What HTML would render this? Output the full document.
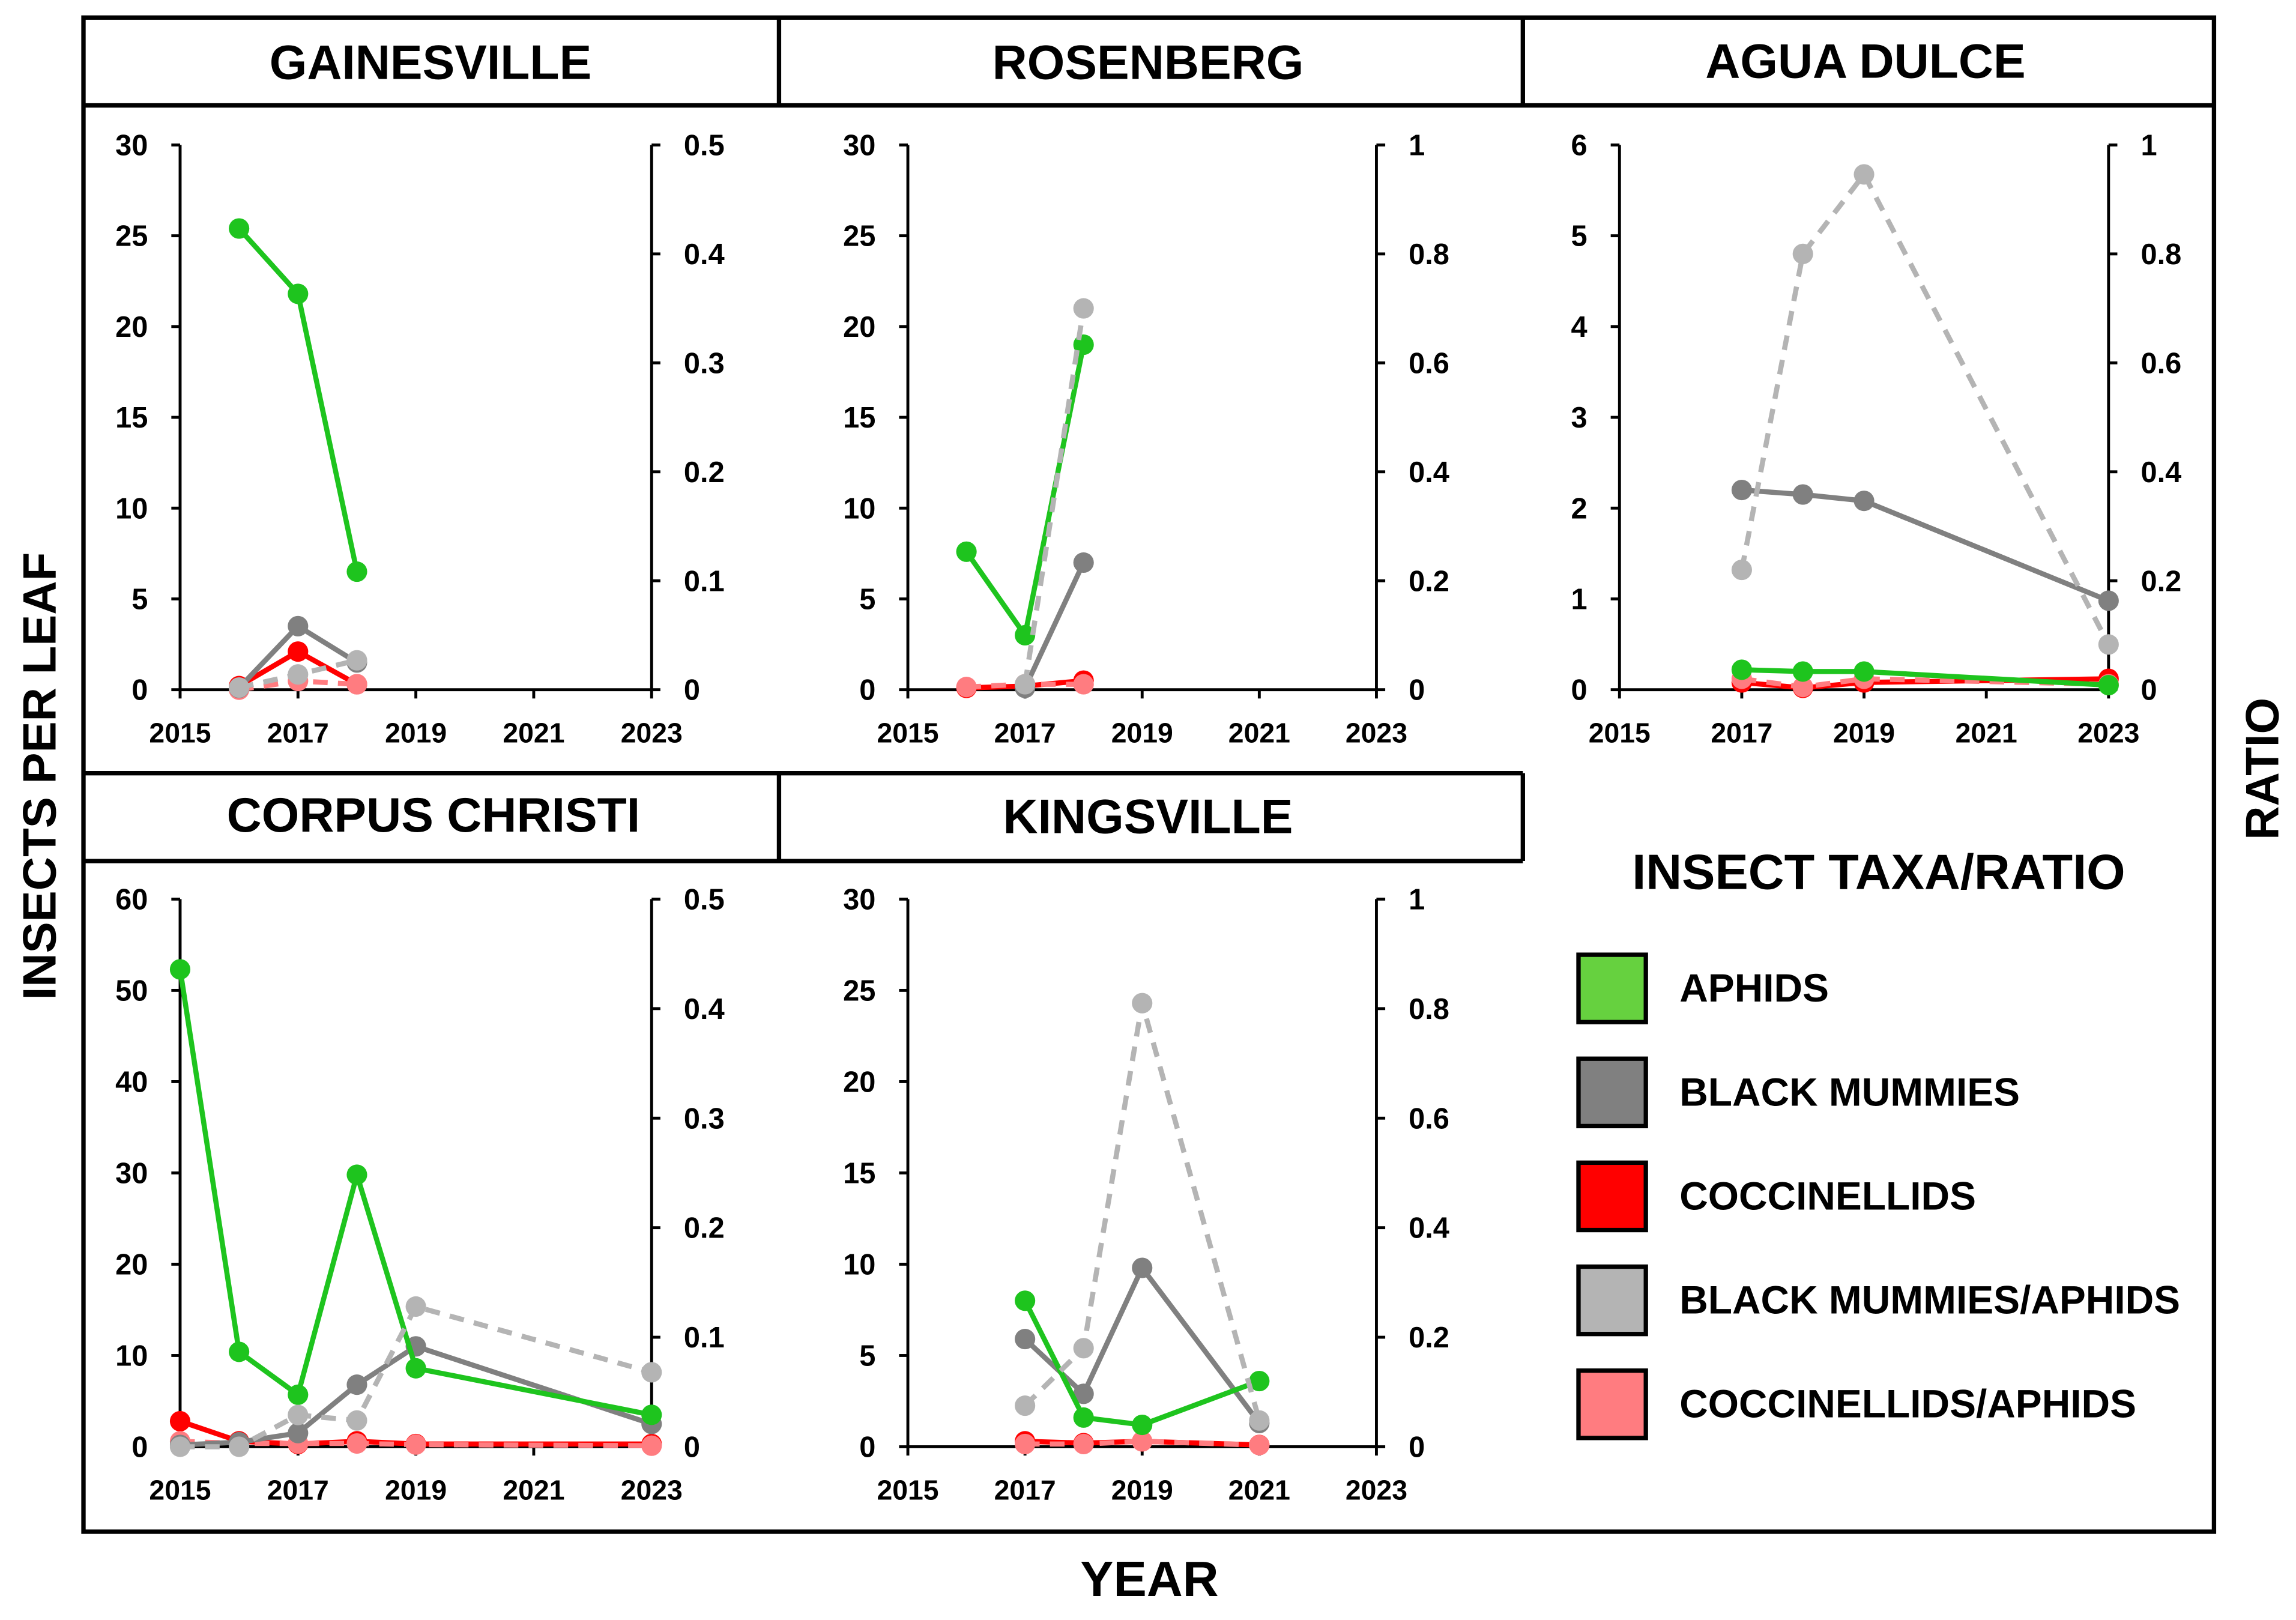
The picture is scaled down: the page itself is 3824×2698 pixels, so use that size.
<!DOCTYPE html>
<html><head><meta charset="utf-8">
<style>
html,body{margin:0;padding:0;background:#fff;}
svg{display:block;font-family:"Liberation Sans",Arial,sans-serif;font-weight:bold;}
</style></head>
<body>
<svg id="chart" width="3824" height="2698" viewBox="0 0 1568 1106.3" xmlns="http://www.w3.org/2000/svg">
<rect x="0" y="0" width="1568" height="1107" fill="#fff"/>
<g id="frame" fill="none" stroke="#000" stroke-width="3">
<rect x="57" y="12" width="1455" height="1034"/>
<line x1="57" y1="72" x2="1512" y2="72"/>
<line x1="532" y1="12" x2="532" y2="72"/>
<line x1="1040" y1="12" x2="1040" y2="72"/>
<line x1="57" y1="528" x2="1040" y2="528"/>
<line x1="57" y1="588" x2="1040" y2="588"/>
<line x1="532" y1="528" x2="532" y2="588"/>
<line x1="1040" y1="528" x2="1040" y2="588"/>
</g>
<g font-size="33" text-anchor="middle">
<text x="294" y="54">GAINESVILLE</text>
<text x="784" y="54">ROSENBERG</text>
<text x="1274" y="53">AGUA DULCE</text>
<text x="296" y="568">CORPUS CHRISTI</text>
<text x="784" y="569">KINGSVILLE</text>
</g>
<text x="0" y="0" font-size="32" text-anchor="middle" transform="translate(38,530) rotate(-90)">INSECTS PER LEAF</text>
<text x="0" y="0" font-size="32" text-anchor="middle" transform="translate(1556,525) rotate(-90)">RATIO</text>
<text x="785" y="1090" font-size="34" text-anchor="middle">YEAR</text>
<g id="panels"></g>
<g id="legend"></g>
</svg>
<script>
// ---- data ----
const panelNames = ["gainesville","rosenberg","agua-dulce","corpus-christi","kingsville"];
const leftMax = [30,30,6,60,30];
const leftStep = [5,5,1,10,5];
const rightMax = [0.5,1,1,0.5,1];
const rightStep = [0.1,0.2,0.2,0.1,0.2];
const xTicks = [2015,2017,2019,2021,2023];

const gYears = [2016,2017,2018];
const gAphids = [25.4,21.8,6.5];
const gMummies = [0.1,3.5,1.5];
const gCocc = [0.2,2.1,0.3];
const gMA = [0.002,0.014,0.027];
const gCA = [0,0.008,0.005];

const rYears = [2016,2017,2018];
const rAphids = [7.6,3.0,19.0];
const rMummies = [null,0.1,7.0];
const rCocc = [0.1,0.2,0.5];
const rMA = [null,0.01,0.70];
const rCA = [0.005,0.01,0.01];

const aYears = [2017,2018,2019,2023];
const aAphids = [0.22,0.2,0.2,0.05];
const aMummies = [2.2,2.15,2.08,0.98];
const aCocc = [0.08,0.02,0.08,0.12];
const aMA = [0.22,0.80,0.946,0.083];
const aCA = [0.02,0.005,0.02,0.01];

const cYears = [2015,2016,2017,2018,2019,2023];
const cAphids = [52.3,10.4,5.7,29.8,8.6,3.5];
const cMummies = [0.2,0.5,1.5,6.8,11,2.5];
const cCocc = [2.8,0.6,0.3,0.6,0.3,0.3];
const cMA = [0,0,0.029,0.024,0.128,0.068];
const cCA = [0.005,0.003,0.003,0.003,0.002,0.001];

const kYears = [2017,2018,2019,2021];
const kAphids = [8.0,1.6,1.2,3.6];
const kMummies = [5.9,2.9,9.8,1.3];
const kCocc = [0.3,0.2,0.3,0.1];
const kMA = [0.075,0.18,0.81,0.048];
const kCA = [0.005,0.005,0.01,0.003];

const years = [gYears,rYears,aYears,cYears,kYears];
const aphids = [gAphids,rAphids,aAphids,cAphids,kAphids];
const mummies = [gMummies,rMummies,aMummies,cMummies,kMummies];
const coccs = [gCocc,rCocc,aCocc,cCocc,kCocc];
const mas = [gMA,rMA,aMA,cMA,kMA];
const cas = [gCA,rCA,aCA,cCA,kCA];

const legendLabels = ["APHIDS","BLACK MUMMIES","COCCINELLIDS","BLACK MUMMIES/APHIDS","COCCINELLIDS/APHIDS"];
const legendColors = ["#66d13f","#808080","#ff0000","#b4b4b4","#ff7c80"];

// ---- layout ----
const boxes = [
  {l:123,r:445,t:99,b:471},
  {l:620,r:940,t:99,b:471},
  {l:1106,r:1440,t:99,b:471},
  {l:123,r:445,t:614,b:988},
  {l:620,r:940,t:614,b:988}
];
const NS="http://www.w3.org/2000/svg";
function mk(tag,attrs,parent){const e=document.createElementNS(NS,tag);for(const k in attrs)e.setAttribute(k,attrs[k]);parent.appendChild(e);return e;}
function fmt(v){return (Math.round(v*10)/10).toString();}
const root=document.getElementById('panels');
boxes.forEach((B,i)=>{
  const g=mk('g',{},root);
  
  
  const xs=y=>B.l+(y-2015)/8*(B.r-B.l);
  const yl=v=>B.b-v/leftMax[i]*(B.b-B.t);
  const yr=v=>B.b-v/rightMax[i]*(B.b-B.t);
  const ax=mk('path',{d:`M${B.l},${B.t}V${B.b}H${B.r}M${B.r},${B.t}V${B.b}`,stroke:'#000','stroke-width':2,fill:'none'},g);
  
  
  for(let v=0;v<=leftMax[i]+1e-9;v+=leftStep[i]){
    mk('line',{x1:B.l-6,x2:B.l,y1:yl(v),y2:yl(v),stroke:'#000','stroke-width':2},g);
    const t=mk('text',{x:B.l-22,y:yl(v)+7,'font-size':20,'text-anchor':'end'},g);t.textContent=fmt(v);
    
    
  }
  for(let k=0;k*rightStep[i]<=rightMax[i]+1e-9;k++){
    const v=k*rightStep[i];
    mk('line',{x1:B.r,x2:B.r+6,y1:yr(v),y2:yr(v),stroke:'#000','stroke-width':2},g);
    const t=mk('text',{x:B.r+22,y:yr(v)+7,'font-size':20,'text-anchor':'start'},g);t.textContent=fmt(v);
    
    
  }
  xTicks.forEach(y=>{
    mk('line',{x1:xs(y),x2:xs(y),y1:B.b,y2:B.b+6,stroke:'#000','stroke-width':2},g);
    const t=mk('text',{x:xs(y),y:B.b+36,'font-size':19,'text-anchor':'middle'},g);t.textContent=y;
    
    
  });
  const series=[
    {vals:coccs[i],sc:yl,col:'#ff0000',dash:null,name:'coccinellids'},
    {vals:cas[i],sc:yr,col:'#ff7c80',dash:'10,7',name:'coccinellids-aphids'},
    {vals:mummies[i],sc:yl,col:'#808080',dash:null,name:'black-mummies'},
    {vals:aphids[i],sc:yl,col:'#1ec41e',dash:null,name:'aphids'},
    {vals:mas[i],sc:yr,col:'#b4b4b4',dash:'10,7',name:'mummies-aphids'}
  ];
  series.forEach(s=>{
    const pts=[];
    years[i].forEach((yr_,j)=>{if(s.vals[j]!=null)pts.push([xs(yr_),s.sc(s.vals[j])]);});
    const p=mk('polyline',{points:pts.map(p=>p.join(',')).join(' '),fill:'none',stroke:s.col,'stroke-width':3.5},g);
    if(s.dash)p.setAttribute('stroke-dasharray',s.dash);
    
    
    pts.forEach(q=>{
      const c=mk('circle',{cx:q[0],cy:q[1],r:7,fill:s.col},g);
      
      
    });
  });
});
const lg=document.getElementById('legend');


const lt=mk('text',{x:1283,y:607,'font-size':34,'text-anchor':'middle'},lg);lt.textContent="INSECT TAXA/RATIO";


legendLabels.forEach((lab,j)=>{
  const y=652+j*71;
  const r=mk('rect',{x:1078,y:y,width:46,height:46,fill:legendColors[j],stroke:'#000','stroke-width':3},lg);
  
  
  const t=mk('text',{x:1147,y:y+32,'font-size':27},lg);t.textContent=lab;
  
  
});
</script>
</body></html>
